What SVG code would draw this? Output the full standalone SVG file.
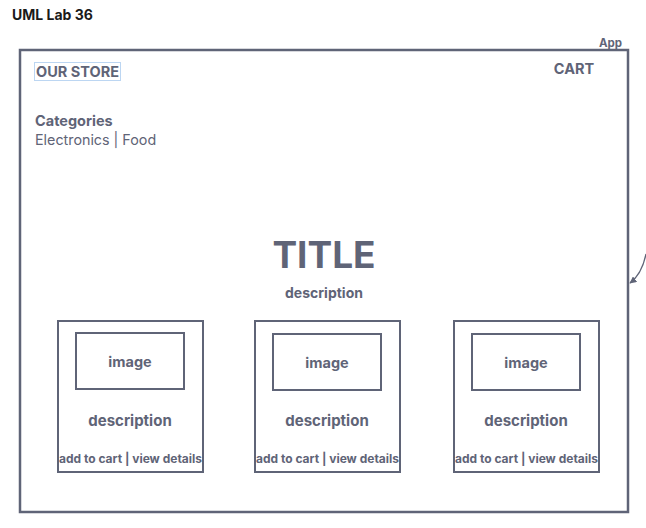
<svg xmlns="http://www.w3.org/2000/svg" width="646" height="528" viewBox="0 0 646 528">
<defs>
<style>
.t{font-family:Inter,"Liberation Sans",sans-serif;fill:#5f6477;}
.b{font-weight:bold;}
.box{fill:none;stroke:#5f6477;stroke-width:2;}
</style>
<marker id="ah" viewBox="0 0 10 10" refX="9" refY="5" markerWidth="7" markerHeight="7" orient="auto" markerUnits="userSpaceOnUse">
<path d="M0,0 L10,5 L0,10 z" fill="#5f6477"/>
</marker>
</defs>
<rect width="646" height="528" fill="#ffffff"/>
<text x="12" y="20" font-family="Inter,'Liberation Sans',sans-serif" font-size="14" font-weight="bold" fill="#1a1a1a">UML Lab 36</text>
<g id="app">
<rect x="20" y="50" width="608" height="462" fill="none" stroke="#5f6477" stroke-width="2.5"/>
<text class="t b" x="622" y="47" font-size="11.5" text-anchor="end">App</text>
<rect x="34.5" y="62.5" width="86" height="18" fill="none" stroke="#bcd6f2" stroke-width="1"/>
<text class="t b" x="36" y="77" font-size="14.5">OUR STORE</text>
<text class="t b" x="574" y="74" font-size="14.5" text-anchor="middle">CART</text>
<text class="t b" x="35" y="126" font-size="14.5">Categories</text>
<text class="t" x="35" y="145" font-size="14.3">Electronics | Food</text>
<text class="t b" x="324" y="268" font-size="37" text-anchor="middle">TITLE</text>
<text class="t b" x="324" y="298" font-size="14" text-anchor="middle">description</text>
</g>
<g id="card1">
<rect class="box" x="58" y="321" width="145" height="151"/>
<rect class="box" x="76" y="333" width="108" height="56"/>
<text class="t b" x="130" y="367" font-size="14.5" text-anchor="middle">image</text>
<text class="t b" x="130" y="426" font-size="15" text-anchor="middle">description</text>
<text class="t b" x="130.5" y="463" font-size="12" text-anchor="middle">add to cart | view details</text>
</g>
<g id="card2">
<rect class="box" x="255" y="321" width="145" height="151"/>
<rect class="box" x="273" y="334" width="108" height="56"/>
<text class="t b" x="327" y="368" font-size="14.5" text-anchor="middle">image</text>
<text class="t b" x="327" y="426" font-size="15" text-anchor="middle">description</text>
<text class="t b" x="327.5" y="463" font-size="12" text-anchor="middle">add to cart | view details</text>
</g>
<g id="card3">
<rect class="box" x="454" y="321" width="145" height="151"/>
<rect class="box" x="472" y="334" width="108" height="56"/>
<text class="t b" x="526" y="368" font-size="14.5" text-anchor="middle">image</text>
<text class="t b" x="526" y="426" font-size="15" text-anchor="middle">description</text>
<text class="t b" x="526.5" y="463" font-size="12" text-anchor="middle">add to cart | view details</text>
</g>
<g id="connectors">
<path d="M646,254 Q642,274 630,283" fill="none" stroke="#5f6477" stroke-width="1.3" marker-end="url(#ah)"/>
</g>
</svg>
